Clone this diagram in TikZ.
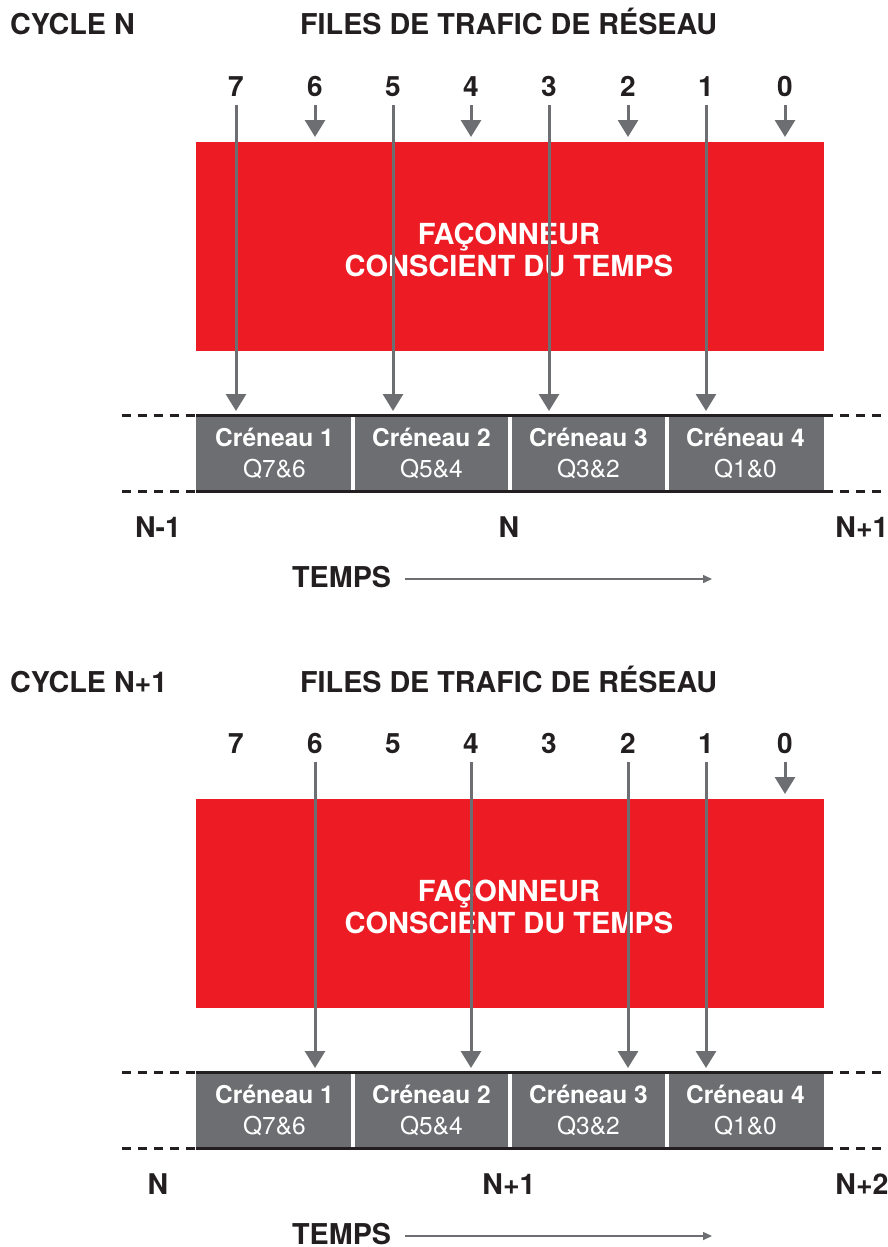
\documentclass[tikz,border=0pt]{standalone}
\usepackage{fontspec}
\setmainfont{TeX Gyre Heros}
\usetikzlibrary{arrows.meta}
\definecolor{tred}{HTML}{ED1C24}
\definecolor{tgrey}{HTML}{6D6E71}
\definecolor{tblack}{HTML}{231F20}
\tikzset{
  heading/.style={inner sep=0pt, anchor=base west, text=tblack, font=\fontsize{28.7}{32}\selectfont\bfseries},
  num/.style={inner sep=0pt, anchor=base, text=tblack, font=\fontsize{28}{32}\selectfont\bfseries},
  nlabel/.style={inner sep=0pt, anchor=base, text=tblack, font=\fontsize{28.5}{32}\selectfont\bfseries},
  redbox/.style={fill=tred, inner sep=0pt, minimum width=628pt, minimum height=209pt},
  boxtext/.style={inner sep=0pt, align=center, text=white, font=\fontsize{29}{32}\selectfont\bfseries},
  slotbox/.style={fill=tgrey, inner sep=0pt, minimum width=157pt, minimum height=76pt, text=white, align=center,
    font=\fontsize{24.5}{31}\selectfont},
  longarr/.style={draw=tgrey, line width=3pt, -{Triangle[width=20pt,length=17pt]}},
  shortarr/.style={draw=tgrey, line width=3pt, -{Triangle[width=20pt,length=17pt]}},
  barline/.style={draw=tblack, line width=3.5pt},
  dashline/.style={draw=tblack, line width=3pt, dash pattern=on 9pt off 7pt},
  divider/.style={draw=white, line width=4pt},
  timearr/.style={draw=tgrey, line width=1.5pt, -{Triangle[width=8pt,length=9pt]}},
}
\newcommand\drawcycle[7]{%
  % #1 prefix, #2 title, #3 #4 #5 N labels, #6 long arrows, #7 short arrows
  \node[heading] (#1title) at (10,35) {#2};
  \node[heading] (#1files) at (300,35) {FILES DE TRAFIC DE RÉSEAU};
  \foreach \i/\x in {7/236,6/315,5/393,4/471,3/549,2/628,1/706,0/785}
    \node[num] (#1q\i) at (\x,96) {\i};
  \node[redbox] (#1box) at (510,246.5) {};
  \node[boxtext] (#1boxtxt) at (509,249.5) {FAÇONNEUR\\CONSCIENT DU TEMPS};
  \coordinate (#1start) at (0,105);
  \coordinate (#1boxtop) at (0,137);
  \coordinate (#1bartop) at (0,411);
  \node[slotbox] (#1s1) at (274.5,453.5) {\textbf{Créneau 1}\\Q7\&6};
  \node[slotbox] (#1s2) at (431.5,453.5) {\textbf{Créneau 2}\\Q5\&4};
  \node[slotbox] (#1s3) at (588.5,453.5) {\textbf{Créneau 3}\\Q3\&2};
  \node[slotbox] (#1s4) at (745.5,453.5) {\textbf{Créneau 4}\\Q1\&0};
  \draw[divider] (#1s1.north east) -- (#1s1.south east);
  \draw[divider] (#1s2.north east) -- (#1s2.south east);
  \draw[divider] (#1s3.north east) -- (#1s3.south east);
  \draw[barline] (#1s1.north west) -- (#1s4.north east);
  \draw[barline] (#1s1.south west) -- (#1s4.south east);
  \coordinate (#1dl) at (122,0);
  \coordinate (#1dr) at (888,0);
  \draw[dashline] (#1dl |- #1s1.north west) -- (#1s1.north west);
  \draw[dashline] (#1dl |- #1s1.south west) -- (#1s1.south west);
  \draw[dashline] (#1s4.north east) -- (#1dr |- #1s4.north east);
  \draw[dashline] (#1s4.south east) -- (#1dr |- #1s4.south east);
  \foreach \i in {#6}
    \draw[longarr] (#1q\i |- #1start) -- (#1q\i |- #1bartop);
  \foreach \i in {#7}
    \draw[shortarr] (#1q\i |- #1start) -- (#1q\i |- #1boxtop);
  \node[nlabel] (#1na) at (158,537) {#3};
  \node[nlabel] (#1nb) at (509,537) {#4};
  \node[nlabel] (#1nc) at (862,537) {#5};
  \node[heading] (#1temps) at (292,587.5) {TEMPS};
  \coordinate (#1tend) at (712,579);
  \draw[timearr] (#1temps.east |- #1tend) ++(14,0) coordinate (#1tstart) -- (#1tend);
}
\begin{document}
\begin{tikzpicture}[x=1pt,y=-1pt]
\useasboundingbox (0,0) rectangle (888,1247);
\begin{scope}
  \drawcycle{a}{CYCLE N}{N-1}{N}{N+1}{7,5,3,1}{6,4,2,0}
\end{scope}
\begin{scope}[shift={(0,657)}]
  \drawcycle{b}{CYCLE N+1}{N}{N+1}{N+2}{6,4,2,1}{0}
\end{scope}
\end{tikzpicture}
\end{document}
